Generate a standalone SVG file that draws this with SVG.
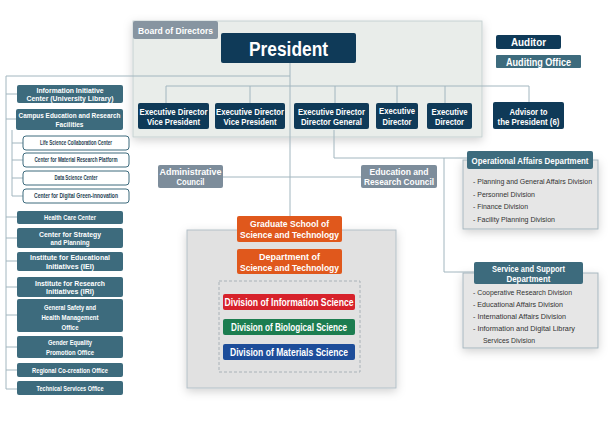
<svg xmlns="http://www.w3.org/2000/svg" width="611" height="423" viewBox="0 0 611 423">
<defs>
<filter id="sh" x="-20%" y="-20%" width="140%" height="140%">
<feDropShadow dx="0" dy="3" stdDeviation="5" flood-color="#000" flood-opacity="0.18"/>
</filter>
</defs>
<style>
text{font-family:"Liberation Sans",Arial,sans-serif;font-weight:bold;text-anchor:middle;fill:#fff}
.navy{fill:#0f3a58}
.teal{fill:#3d6b7d}
.slate{fill:#7d8d9b}
.sub{fill:#fff;stroke:#3d6b7d;stroke-width:1}
.subt{fill:#1f3f52;font-size:6.5px}
.lt{font-size:7.6px}
.ex{font-size:9.5px}
.ln{fill:none;stroke:#a2b6bf;stroke-width:1}
.it{fill:#333;font-weight:normal;text-anchor:start;font-size:7.5px}
</style>
<rect width="611" height="423" fill="#fff"/>
<g id="board-panel">
<rect x="133" y="21" width="349" height="116" fill="#e9edea" stroke="#c6d1d2" filter="url(#sh)"/>
<rect x="133" y="21" width="85" height="18" rx="2" fill="#8795a1"/>
<text x="175.5" y="33.5" font-size="9px" textLength="75" lengthAdjust="spacingAndGlyphs">Board of Directors</text>
</g>
<g id="grad-panel">
<rect x="187" y="230" width="209" height="158" fill="#e1e1e1" stroke="#b3c0c8" filter="url(#sh)"/>
<rect x="219" y="281" width="141" height="91" fill="none" stroke="#a9b2b8" stroke-dasharray="3,2"/>
</g>
<g id="connectors">
<path class="ln" d="M290 63V216"/>
<path class="ln" d="M6 76H290"/>
<path class="ln" d="M6 76V389H17"/>
<path class="ln" d="M166 86H529M166 86V103M250 86V103M335 86V103M397 86V103M445 86V103M529 86V102"/>
<path class="ln" d="M334 130V158H467"/>
<path class="ln" d="M444 158V272H474"/>
<path class="ln" d="M223 177H361"/>
<path class="ln" d="M6 94H17M6 119H16M6 217H17M6 238H17M6 261H17M6 287H17M6 315H17M6 347H17M6 370H17"/>
<path class="ln" d="M12 130V196H23M12 143H23M12 160H23M12 178H23"/>
</g>
<g id="president"><rect x="221" y="33" width="135" height="30" rx="2" class="navy"/><text x="288.5" y="55.5" font-size="20px" textLength="79" lengthAdjust="spacingAndGlyphs">President</text></g>
<g id="auditor"><rect x="496" y="35" width="65" height="14" rx="2" class="navy"/><text x="528.5" y="46" font-size="10.5px" textLength="35" lengthAdjust="spacingAndGlyphs">Auditor</text></g>
<g id="auditing-office"><rect x="496" y="55" width="85" height="13" rx="1" class="teal"/><text x="538.5" y="65.5" font-size="10.5px" textLength="65" lengthAdjust="spacingAndGlyphs">Auditing Office</text></g>
<g id="exec1"><rect x="138" y="103" width="71" height="26" rx="2" class="navy"/><text class="ex" x="173.5" y="114.5" textLength="68" lengthAdjust="spacingAndGlyphs">Executive Director</text><text class="ex" x="173.5" y="125" textLength="53" lengthAdjust="spacingAndGlyphs">Vice President</text></g>
<g id="exec2"><rect x="215" y="103" width="70" height="26" rx="2" class="navy"/><text class="ex" x="250" y="114.5" textLength="68" lengthAdjust="spacingAndGlyphs">Executive Director</text><text class="ex" x="250" y="125" textLength="53" lengthAdjust="spacingAndGlyphs">Vice President</text></g>
<g id="exec3"><rect x="294" y="103" width="75" height="26" rx="2" class="navy"/><text class="ex" x="331.5" y="115" textLength="67" lengthAdjust="spacingAndGlyphs">Executive Director</text><text class="ex" x="331.5" y="125" textLength="61" lengthAdjust="spacingAndGlyphs">Director General</text></g>
<g id="exec4"><rect x="376" y="103" width="42" height="26" rx="2" class="navy"/><text class="ex" x="397" y="114" textLength="36" lengthAdjust="spacingAndGlyphs">Executive</text><text class="ex" x="397" y="124.5" textLength="29" lengthAdjust="spacingAndGlyphs">Director</text></g>
<g id="exec5"><rect x="427" y="103" width="45" height="26" rx="2" class="navy"/><text class="ex" x="449.5" y="115" textLength="36" lengthAdjust="spacingAndGlyphs">Executive</text><text class="ex" x="449.5" y="125" textLength="29" lengthAdjust="spacingAndGlyphs">Director</text></g>
<g id="advisor"><rect x="493" y="102" width="71" height="27" rx="2" class="navy"/><text class="ex" x="528.5" y="114.5" textLength="38" lengthAdjust="spacingAndGlyphs">Advisor to</text><text class="ex" x="528.5" y="124.5" textLength="62" lengthAdjust="spacingAndGlyphs">the President (6)</text></g>
<g id="admin-council"><rect x="158" y="165" width="65" height="23" rx="2" class="slate"/><text class="ex" x="190.5" y="175" textLength="62" lengthAdjust="spacingAndGlyphs">Administrative</text><text class="ex" x="190.5" y="185" textLength="28" lengthAdjust="spacingAndGlyphs">Council</text></g>
<g id="edu-council"><rect x="361" y="165" width="76" height="23" rx="2" class="slate"/><text class="ex" x="399" y="175" textLength="59" lengthAdjust="spacingAndGlyphs">Education and</text><text class="ex" x="399" y="185" textLength="70" lengthAdjust="spacingAndGlyphs">Research Council</text></g>
<g id="grad-school"><rect x="237" y="216" width="105" height="26" rx="2" fill="#e0581c"/><text class="ex" x="289.5" y="227" textLength="79" lengthAdjust="spacingAndGlyphs">Graduate School of</text><text class="ex" x="289.5" y="238" textLength="99" lengthAdjust="spacingAndGlyphs">Science and Technology</text></g>
<g id="dept"><rect x="237" y="249" width="105" height="25" rx="2" fill="#e0581c"/><text class="ex" x="289.5" y="259.5" textLength="61" lengthAdjust="spacingAndGlyphs">Department of</text><text class="ex" x="289.5" y="270.5" textLength="99" lengthAdjust="spacingAndGlyphs">Science and Technology</text></g>
<g id="div-info"><rect x="223" y="294" width="132" height="16" rx="2" fill="#d7222b"/><text x="289" y="305.5" font-size="10px" textLength="129" lengthAdjust="spacingAndGlyphs">Division of Information Science</text></g>
<g id="div-bio"><rect x="223" y="319" width="132" height="16" rx="2" fill="#1c7d50"/><text x="289" y="330.5" font-size="10px" textLength="116" lengthAdjust="spacingAndGlyphs">Division of Biological Science</text></g>
<g id="div-mat"><rect x="223" y="344" width="132" height="16" rx="2" fill="#1d4d9a"/><text x="289" y="355.5" font-size="10px" textLength="118" lengthAdjust="spacingAndGlyphs">Division of Materials Science</text></g>
<g id="op-affairs">
<rect x="463" y="160" width="135" height="69" fill="#e6e6e6" stroke="#a7b7bf" filter="url(#sh)"/>
<rect x="467" y="151" width="126" height="18" rx="2" class="teal"/>
<text x="530" y="163.5" font-size="9.5px" textLength="117" lengthAdjust="spacingAndGlyphs">Operational Affairs Department</text>
<text class="it" x="473" y="184" textLength="119" lengthAdjust="spacingAndGlyphs">- Planning and General Affairs Division</text>
<text class="it" x="473" y="196.5" textLength="62" lengthAdjust="spacingAndGlyphs">- Personnel Division</text>
<text class="it" x="473" y="209" textLength="55" lengthAdjust="spacingAndGlyphs">- Finance Division</text>
<text class="it" x="473" y="221.5" textLength="82" lengthAdjust="spacingAndGlyphs">- Facility Planning Division</text>
</g>
<g id="service-support">
<rect x="463" y="273" width="135" height="75" fill="#e6e6e6" stroke="#a7b7bf" filter="url(#sh)"/>
<rect x="474" y="262" width="109" height="22" rx="2" class="teal"/>
<text x="528.5" y="272" font-size="9.5px" textLength="73" lengthAdjust="spacingAndGlyphs">Service and Support</text>
<text x="528.5" y="281.5" font-size="9.5px" textLength="44" lengthAdjust="spacingAndGlyphs">Department</text>
<text class="it" x="473" y="294.5" textLength="99" lengthAdjust="spacingAndGlyphs">- Cooperative Research Division</text>
<text class="it" x="473" y="306.5" textLength="90" lengthAdjust="spacingAndGlyphs">- Educational Affairs Division</text>
<text class="it" x="473" y="318.5" textLength="93" lengthAdjust="spacingAndGlyphs">- International Affairs Division</text>
<text class="it" x="473" y="330.5" textLength="102" lengthAdjust="spacingAndGlyphs">- Information and Digital Library</text>
<text class="it" x="483" y="342.5" textLength="52" lengthAdjust="spacingAndGlyphs">Services Division</text>
</g>
<g id="info-initiative"><rect x="17" y="85" width="106" height="18" rx="2" class="teal"/><text class="lt" x="70" y="92.5" textLength="67" lengthAdjust="spacingAndGlyphs">Information Initiative</text><text class="lt" x="70" y="100.5" textLength="87" lengthAdjust="spacingAndGlyphs">Center (University Library)</text></g>
<g id="campus-edu"><rect x="16" y="109" width="107" height="21" rx="2" class="teal"/><text class="lt" x="69.5" y="117.5" textLength="102" lengthAdjust="spacingAndGlyphs">Campus Education and Research</text><text class="lt" x="69.5" y="126.5" textLength="28" lengthAdjust="spacingAndGlyphs">Facilities</text></g>
<g id="life-science"><rect x="23" y="136" width="106" height="14" rx="3" class="sub"/><text class="subt" x="76" y="145.3" textLength="72" lengthAdjust="spacingAndGlyphs">Life Science Collaboration Center</text></g>
<g id="material-research"><rect x="23" y="153" width="106" height="14" rx="3" class="sub"/><text class="subt" x="76" y="162.3" textLength="83" lengthAdjust="spacingAndGlyphs">Center for Material Research Platform</text></g>
<g id="data-science"><rect x="23" y="171" width="106" height="14" rx="3" class="sub"/><text class="subt" x="76" y="180.3" textLength="43" lengthAdjust="spacingAndGlyphs">Data Science Center</text></g>
<g id="digital-green"><rect x="23" y="189" width="106" height="14" rx="3" class="sub"/><text class="subt" x="76" y="198.3" textLength="84" lengthAdjust="spacingAndGlyphs">Center for Digital Green-innovation</text></g>
<g id="health-care"><rect x="17" y="211" width="106" height="13" rx="2" class="teal"/><text class="lt" x="70" y="220.2" textLength="52" lengthAdjust="spacingAndGlyphs">Health Care Center</text></g>
<g id="strategy"><rect x="17" y="228" width="106" height="20" rx="2" class="teal"/><text class="lt" x="70" y="236.5" textLength="62" lengthAdjust="spacingAndGlyphs">Center for Strategy</text><text class="lt" x="70" y="245" textLength="39" lengthAdjust="spacingAndGlyphs">and Planning</text></g>
<g id="iei"><rect x="17" y="252" width="106" height="19" rx="2" class="teal"/><text class="lt" x="70" y="260" textLength="80" lengthAdjust="spacingAndGlyphs">Institute for Educational</text><text class="lt" x="70" y="268.5" textLength="48" lengthAdjust="spacingAndGlyphs">Initiatives (IEI)</text></g>
<g id="iri"><rect x="17" y="277" width="106" height="20" rx="2" class="teal"/><text class="lt" x="70" y="285.5" textLength="70" lengthAdjust="spacingAndGlyphs">Institute for Research</text><text class="lt" x="70" y="294" textLength="48" lengthAdjust="spacingAndGlyphs">Initiatives (IRI)</text></g>
<g id="safety"><rect x="17" y="299" width="106" height="33" rx="2" class="teal"/><text class="lt" x="70" y="310" textLength="52" lengthAdjust="spacingAndGlyphs">General Safety and</text><text class="lt" x="70" y="320" textLength="57" lengthAdjust="spacingAndGlyphs">Health Management</text><text class="lt" x="70" y="330" textLength="17" lengthAdjust="spacingAndGlyphs">Office</text></g>
<g id="gender"><rect x="17" y="336" width="106" height="22" rx="2" class="teal"/><text class="lt" x="70" y="345" textLength="44" lengthAdjust="spacingAndGlyphs">Gender Equality</text><text class="lt" x="70" y="355" textLength="48" lengthAdjust="spacingAndGlyphs">Promotion Office</text></g>
<g id="regional"><rect x="17" y="363" width="106" height="14" rx="2" class="teal"/><text class="lt" x="70" y="372.7" textLength="76" lengthAdjust="spacingAndGlyphs">Regional Co-creation Office</text></g>
<g id="technical"><rect x="17" y="381" width="106" height="14" rx="2" class="teal"/><text class="lt" x="70" y="390.7" textLength="67" lengthAdjust="spacingAndGlyphs">Technical Services Office</text></g>
</svg>
